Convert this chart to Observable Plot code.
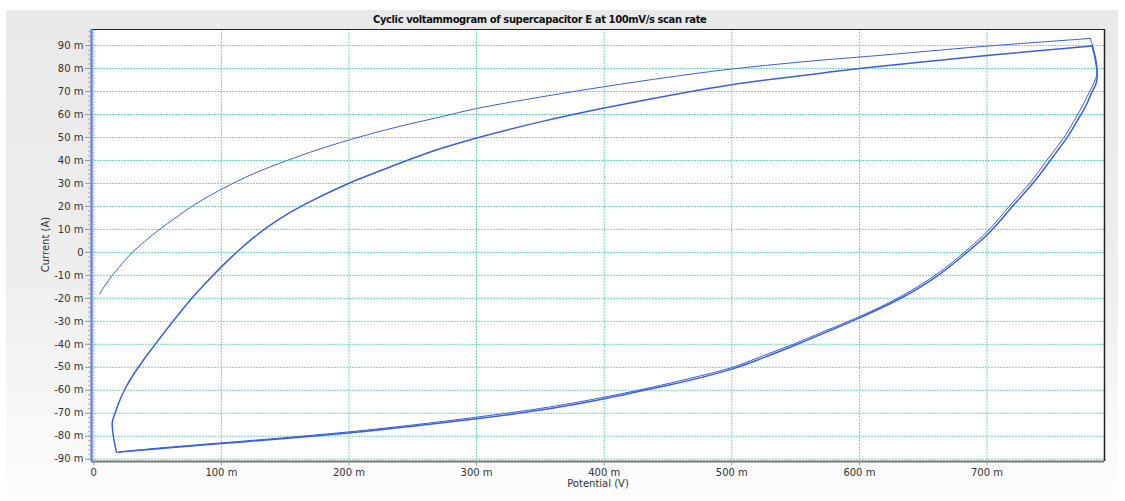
<!DOCTYPE html>
<html><head><meta charset="utf-8">
<script src="https://cdn.jsdelivr.net/npm/d3@7"></script>
<script src="https://cdn.jsdelivr.net/npm/@observablehq/plot@0.6"></script>
<style>
body{margin:0;background:#fff;}
#wrap{position:relative;width:1125px;height:501px;overflow:hidden;font-family:"DejaVu Sans",Verdana,sans-serif;color:#333;}
#panel{position:absolute;left:6px;top:10px;width:1112px;height:491px;background:linear-gradient(to bottom,#e9e9e9 0%,#eeeeee 55%,#fdfdfd 100%);}
#title{position:absolute;left:373px;top:14px;font-weight:bold;font-size:10px;color:#111;letter-spacing:-0.4px;white-space:nowrap}
#chart{position:absolute;left:0;top:0}
#xlabel{position:absolute;left:498px;width:200px;top:478px;text-align:center;font-size:10px;}
#ylabel{position:absolute;left:-5px;width:100px;top:239px;text-align:center;font-size:10px;transform:rotate(-90deg);transform-origin:50% 50%;}
</style></head>
<body><div id="wrap"><div id="panel"></div><div id="chart"></div><div id="title"></div><div id="xlabel"></div><div id="ylabel"></div></div>
<script>
const titleText = "Cyclic voltammogram of supercapacitor E at 100mV/s scan rate";
const xLabel = "Potential (V)";
const yLabel = "Current (A)";
const xTicks = [0, 100, 200, 300, 400, 500, 600, 700];
const yTicks = [-90, -80, -70, -60, -50, -40, -30, -20, -10, 0, 10, 20, 30, 40, 50, 60, 70, 80, 90];
const yMinorTicks = d3.range(-90, 97, 2);

// values in mV (potential) and mA (current)
// cycle 1, forward (anodic) scan
const cycle1UpV = [4.7, 9, 14.4, 20, 25, 31, 40, 52, 64, 75.7, 88, 100.5, 125, 151.6, 175, 200, 235, 272, 300, 350, 400, 450, 500, 538, 573, 600, 710, 781];
const cycle1UpI = [-18, -14.2, -10, -6.3, -3.1, 0.5, 4.8, 10.2, 15, 19.6, 23.8, 27.6, 34.2, 40, 44.6, 48.9, 54.2, 59, 62.6, 67.6, 72.1, 76.2, 79.8, 82, 83.8, 85, 90.2, 93.1];
// cycle 1, reverse (cathodic) scan
const cycle1DownV = [781, 786.4, 784, 780, 776, 768.5, 761.5, 747, 734, 718.3, 697.5, 682, 661, 632, 597, 573, 548, 523, 500, 475, 450, 425, 400, 375, 350, 300, 250, 200, 150, 100, 50, 17.8];
const cycle1DownI = [93.1, 78.6, 74, 69.5, 65, 57.5, 51, 40.1, 30.5, 20.6, 7.6, 0, -9.3, -19.3, -28.7, -34.2, -40, -45.3, -50.1, -53.8, -57.1, -60.2, -63, -65.6, -67.9, -71.7, -75.1, -78.1, -80.6, -82.9, -85.2, -87];
// cycle 2, forward scan
const cycle2UpV = [17.8, 14.4, 17, 20.8, 25, 30.1, 36.3, 43, 50, 61, 68, 75, 87, 98, 107, 115, 125, 136, 152, 170, 185, 200, 232.7, 272, 300, 350, 400, 450, 500, 538, 570, 600, 663, 710, 782.4];
const cycle2UpI = [-87, -74.6, -69.5, -63.8, -58.9, -54, -48.9, -43.8, -38.6, -30.7, -25.9, -21.2, -13.8, -7.4, -2.5, 1.6, 6.3, 11, 16.8, 22.2, 26.3, 30.1, 37.3, 45.2, 49.8, 56.8, 62.8, 68.2, 73, 75.8, 78, 80, 83.6, 86.2, 89.8];
// cycle 2, reverse scan
const cycle2DownV = [782.4, 786.4, 785.5, 782, 778.4, 771, 764, 749.7, 736.6, 720.9, 700, 684.3, 663.4, 634.6, 599.3, 575, 550, 525, 500, 475, 450, 425, 400, 375, 350, 300, 250, 200, 150, 100, 50, 20];
const cycle2DownI = [89.8, 77, 73.5, 69.5, 64.8, 57.5, 51, 40.1, 30.5, 20.6, 7.6, 0, -9.3, -19.3, -28.7, -34.5, -40.3, -45.8, -50.8, -54.6, -57.8, -60.8, -63.7, -66.3, -68.6, -72.4, -75.7, -78.6, -81, -83.2, -85.4, -86.9];

const branch = (V, I, name) => V.map((v, k) => ({v, i: I[k], branch: name}));
const cycle1 = [...branch(cycle1UpV, cycle1UpI, "c1up"), ...branch(cycle1DownV, cycle1DownI, "c1down")];
const cycle2 = [...branch(cycle2UpV, cycle2UpI, "c2up"), ...branch(cycle2DownV, cycle2DownI, "c2down")];

const fmt = d => d === 0 ? "0" : `${d} m`;
const xMin = -1.8, xMax = 792.1, yMin = -91, yMax = 97;
const gridColor = "#52d3a2";
const lineColor = "#3a5ee0";

const plot = Plot.plot({
  width: 1125, height: 501,
  marginLeft: 91, marginRight: 21, marginTop: 29, marginBottom: 40,
  style: {background: "transparent", fontFamily: "DejaVu Sans, Verdana, sans-serif", fontSize: "10px", color: "#333", overflow: "visible"},
  x: {domain: [xMin, xMax]},
  y: {domain: [yMin, yMax]},
  marks: [
    Plot.frame({fill: "white", stroke: null}),
    Plot.gridX(xTicks, {stroke: gridColor, strokeOpacity: 0.85, strokeDasharray: "2,1"}),
    Plot.gridY(yTicks, {stroke: gridColor, strokeOpacity: 0.85, strokeDasharray: "2,1"}),
    Plot.ruleY([yMax], {stroke: "#222", strokeWidth: 1}),
    Plot.ruleX([xMax], {stroke: "#222", strokeWidth: 1.5}),
    Plot.ruleY([yMin], {stroke: "#777", strokeWidth: 2}),
    Plot.ruleX([xMin], {stroke: "#6d86e6", strokeWidth: 2.5}),
    Plot.axisY(yMinorTicks, {tickSize: 3, tickFormat: () => "", label: null, stroke: "#aaa"}),
    Plot.axisY(yTicks, {tickSize: 6, tickPadding: 2, tickFormat: fmt, label: null, stroke: "#999", fill: "#333"}),
    Plot.axisX(xTicks, {tickSize: 4, tickPadding: 3, tickFormat: fmt, label: null, stroke: "#999", fill: "#333"}),
    Plot.line(cycle1, {x: "v", y: "i", z: "branch", stroke: lineColor, strokeWidth: 1, curve: "monotone-y", strokeLinejoin: "round", strokeLinecap: "round"}),
    Plot.line(cycle2, {x: "v", y: "i", z: "branch", stroke: lineColor, strokeWidth: 1.5, curve: "monotone-y", strokeLinejoin: "round", strokeLinecap: "round"})
  ]
});
document.getElementById("chart").append(plot);
document.getElementById("title").textContent = titleText;
document.getElementById("xlabel").textContent = xLabel;
document.getElementById("ylabel").textContent = yLabel;
</script>
</body></html>
